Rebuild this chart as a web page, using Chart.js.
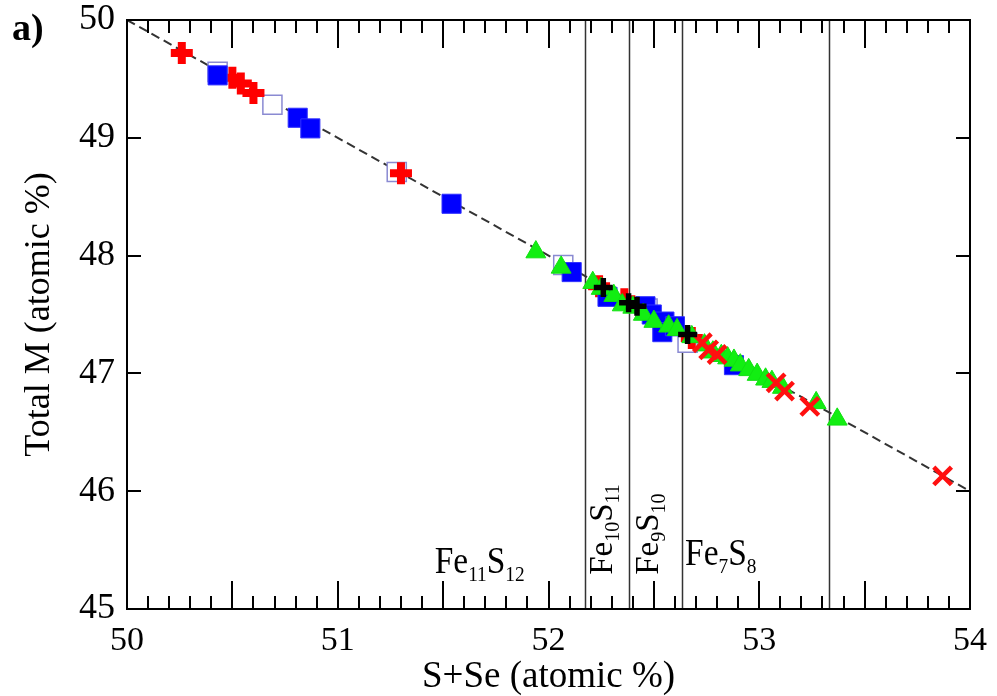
<!DOCTYPE html>
<html>
<head>
<meta charset="utf-8">
<script src="https://cdn.jsdelivr.net/npm/chart.js@4.4.0/dist/chart.umd.min.js"></script>
<style>
  html, body { margin: 0; padding: 0; background: #fff; }
  #wrap { width: 997px; height: 696px; }
</style>
</head>
<body>
<div id="wrap"><canvas id="chart" width="997" height="696"></canvas></div>
<script>
// --- data (S+Se vs Total M, atomic %) ---
const openSqX = [50.43, 50.69, 51.28, 52.07, 52.47, 52.66];
const openSqY = [49.56, 49.28, 48.71, 47.92, 47.55, 47.26];

const blueSqX = [50.43, 50.81, 50.87, 51.54, 52.11, 52.28, 52.46, 52.49, 52.55, 52.54, 52.60, 52.88];
const blueSqY = [49.53, 49.17, 49.08, 48.44, 47.86, 47.65, 47.57, 47.50, 47.44, 47.35, 47.40, 47.07];

const greenX = [51.94, 52.06, 52.21, 52.25, 52.31, 52.35, 52.40, 52.45, 52.50, 52.57, 52.61, 52.68,
                52.74, 52.78, 52.82, 52.85, 52.88, 52.91, 52.95, 52.99, 53.03, 53.06, 53.11, 53.27, 53.37];
const greenY = [48.03, 47.90, 47.77, 47.72, 47.66, 47.58, 47.56, 47.50, 47.44, 47.40, 47.37, 47.31,
                47.24, 47.18, 47.15, 47.13, 47.11, 47.07, 47.03, 46.99, 46.95, 46.93, 46.88, 46.75, 46.61];

const redXX = [52.73, 52.76, 52.80, 53.08, 53.12, 53.24, 53.87];
const redXY = [47.26, 47.20, 47.16, 46.92, 46.85, 46.72, 46.13];

const redPlusX = [50.26, 50.50, 50.54, 50.60, 51.30, 52.24, 52.36, 52.68];
const redPlusY = [49.72, 49.51, 49.46, 49.38, 48.70, 47.74, 47.63, 47.30];

const blackX = [52.26, 52.38, 52.42, 52.66];
const blackY = [47.73, 47.60, 47.57, 47.33];

// stoichiometric line M + S = 100
const lineX = [50, 54];
const lineY = [50, 46];

// phase compositions (S at.%) and their labels
const phaseX = [52.174, 52.381, 52.632, 53.333];
const phaseNames = [['Fe', '11', 'S', '12'], ['Fe', '10', 'S', '11'], ['Fe', '9', 'S', '10'], ['Fe', '7', 'S', '8']];
const labelX = [51.46, 52.30, 52.52, 52.648];
const labelY = [45.306, 45.29, 45.29, 45.374];
const labelRot = [false, true, true, false];

const xTicks = [50, 51, 52, 53, 54];
const yTicks = [45, 46, 47, 48, 49, 50];

const FONT = '"Liberation Serif", "Times New Roman", serif';

function pts(xs, ys) {
    return xs.map((v, i) => ({ x: v, y: ys[i] }));
}

function drawFormula(ctx, parts, x, y, rotate) {
    ctx.save();
    ctx.translate(x, y);
    let size = 38, sub = 22;
    if (rotate) {
        ctx.rotate(-Math.PI / 2);
        size = 33; sub = 20;
    } else {
        ctx.scale(0.88, 1);
    }
    ctx.fillStyle = '#000';
    ctx.textBaseline = 'alphabetic';
    ctx.textAlign = 'left';
    let cx = 0;
    parts.forEach((p, i) => {
        const isSub = i % 2 === 1;
        ctx.font = (isSub ? sub : size) + 'px ' + FONT;
        ctx.fillText(p, cx, isSub ? sub * 0.35 : 0);
        cx += ctx.measureText(p).width;
    });
    ctx.restore();
}

// vertical phase lines + formula labels, under the markers
const phasePlugin = {
    id: 'phases',
    beforeDatasetsDraw(chart) {
        const { ctx, chartArea: a, scales: { x, y } } = chart;
        ctx.save();
        ctx.strokeStyle = '#333';
        ctx.lineWidth = 1.5;
        phaseX.forEach(v => {
            const px = Math.round(x.getPixelForValue(v)) + 0.5;
            ctx.beginPath();
            ctx.moveTo(px, a.top);
            ctx.lineTo(px, a.bottom);
            ctx.stroke();
        });
        ctx.restore();
        phaseNames.forEach((parts, i) => {
            drawFormula(ctx, parts, x.getPixelForValue(labelX[i]), y.getPixelForValue(labelY[i]), labelRot[i]);
        });
    }
};

// box frame with inward ticks on all four sides
const framePlugin = {
    id: 'frame',
    afterDraw(chart) {
        const { ctx, chartArea: a, scales: { x, y } } = chart;
        ctx.save();
        ctx.strokeStyle = '#000';
        ctx.lineWidth = 2;
        ctx.strokeRect(a.left, a.top, a.right - a.left, a.bottom - a.top);
        ctx.beginPath();
        for (let i = 1; i < 40; i++) {
            const px = Math.round(x.getPixelForValue(50 + i / 10));
            const len = i % 5 === 0 ? 28 : 13;
            ctx.moveTo(px, a.bottom); ctx.lineTo(px, a.bottom - len);
            ctx.moveTo(px, a.top); ctx.lineTo(px, a.top + len);
        }
        for (let v = 46; v < 50; v++) {
            const py = Math.round(y.getPixelForValue(v));
            ctx.moveTo(a.left, py); ctx.lineTo(a.left + 14, py);
            ctx.moveTo(a.right, py); ctx.lineTo(a.right - 14, py);
        }
        ctx.stroke();

        // panel letter
        ctx.fillStyle = '#000';
        ctx.font = 'bold 38px ' + FONT;
        ctx.textBaseline = 'middle';
        ctx.fillText('a)', 12, 30);
        ctx.restore();
    }
};

function noEdgePadding(s) {
    s.paddingTop = 0; s.paddingBottom = 0;
    s.paddingLeft = 0; s.paddingRight = 0;
}

const ctx = document.getElementById('chart').getContext('2d');

new Chart(ctx, {
    type: 'scatter',
    data: {
        datasets: [
            {
                data: pts(blackX, blackY),
                pointStyle: 'cross', pointRadius: 9.5, borderWidth: 5.5,
                borderColor: '#000', backgroundColor: '#000'
            },
            {
                data: pts(redXX, redXY),
                pointStyle: 'crossRot', pointRadius: 12.5, borderWidth: 4.5,
                borderColor: '#ff1010', backgroundColor: '#ff1010'
            },
            {
                data: pts(greenX, greenY),
                pointStyle: 'triangle', pointRadius: 11.5, borderWidth: 1,
                borderColor: '#10e010', backgroundColor: '#12ee12'
            },
            {
                data: pts(blueSqX, blueSqY),
                pointStyle: 'rect', pointRadius: 13.5, borderWidth: 1,
                borderColor: '#3030ff', backgroundColor: '#0000ff'
            },
            {
                data: pts(redPlusX, redPlusY),
                pointStyle: 'cross', pointRadius: 11, borderWidth: 8,
                borderColor: '#ff0000', backgroundColor: '#ff0000'
            },
            {
                data: pts(openSqX, openSqY),
                pointStyle: 'rect', pointRadius: 13.5, borderWidth: 1.5,
                borderColor: '#8a8ad2', backgroundColor: '#ffffff'
            },
            {
                type: 'line',
                data: pts(lineX, lineY),
                borderColor: '#333', borderWidth: 2, borderDash: [9, 5],
                pointRadius: 0, fill: false
            }
        ]
    },
    options: {
        responsive: false,
        animation: false,
        devicePixelRatio: 1,
        layout: { padding: { top: 20, right: 27, left: 0, bottom: 0 } },
        plugins: {
            legend: { display: false },
            tooltip: { enabled: false }
        },
        scales: {
            x: {
                type: 'linear',
                min: 50, max: 54,
                afterFit: s => { s.height = 87; noEdgePadding(s); },
                afterBuildTicks: s => { s.ticks = xTicks.map(v => ({ value: v })); },
                grid: { display: false, drawTicks: false },
                border: { display: false },
                ticks: {
                    color: '#000', padding: 15, maxRotation: 0,
                    font: { family: FONT, size: 34, lineHeight: 1 }
                },
                title: {
                    display: true, text: 'S+Se (atomic %)', color: '#000',
                    padding: { top: 0, bottom: 0 },
                    font: { family: FONT, size: 37, lineHeight: 1 }
                }
            },
            y: {
                type: 'linear',
                min: 45, max: 50,
                afterFit: s => { s.width = 127; noEdgePadding(s); },
                afterBuildTicks: s => { s.ticks = yTicks.map(v => ({ value: v })); },
                grid: { display: false, drawTicks: false },
                border: { display: false },
                ticks: {
                    color: '#000', padding: 12,
                    font: { family: FONT, size: 36, lineHeight: 1 }
                },
                title: {
                    display: true, text: 'Total M (atomic %)', color: '#000',
                    padding: { top: 22, bottom: 0 },
                    font: { family: FONT, size: 36, lineHeight: 1 }
                }
            }
        }
    },
    plugins: [phasePlugin, framePlugin]
});
</script>
</body>
</html>
